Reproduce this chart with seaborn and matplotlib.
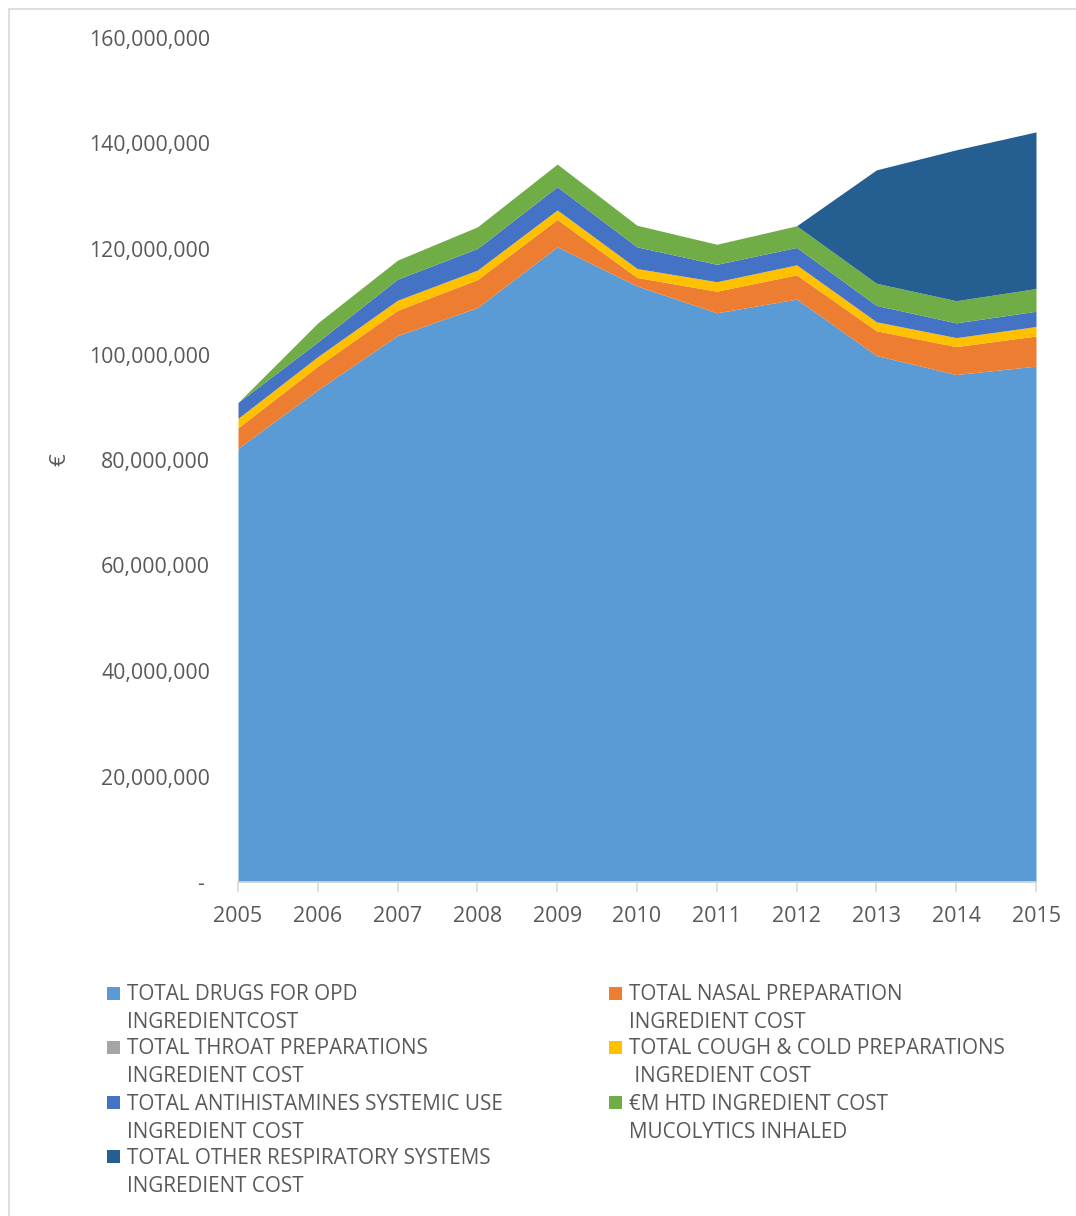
import matplotlib
matplotlib.use("Agg")
import matplotlib.pyplot as plt
import matplotlib.ticker as mticker
from matplotlib.patches import Rectangle
from matplotlib.lines import Line2D
import seaborn as sns

# Ingredient cost by year (euro, millions)
years = [2005, 2006, 2007, 2008, 2009, 2010, 2011, 2012, 2013, 2014, 2015]
opd = [82.2, 93.3, 103.6, 108.9, 120.4, 113.0, 107.9, 110.5, 99.8, 96.2, 97.8]
nasal = [3.9, 4.5, 4.8, 5.3, 5.2, 1.6, 4.1, 4.6, 4.7, 5.3, 5.7]
throat = [0.0, 0.0, 0.0, 0.0, 0.0, 0.0, 0.0, 0.0, 0.0, 0.0, 0.0]
cough = [1.8, 1.8, 1.9, 1.8, 1.8, 1.7, 1.8, 1.9, 1.7, 1.7, 1.8]
antihist = [3.0, 2.8, 4.0, 4.1, 4.4, 4.1, 3.3, 3.3, 3.1, 2.8, 2.9]
mucolytics = [0.0, 3.6, 3.6, 4.1, 4.3, 4.1, 3.8, 4.1, 4.2, 4.2, 4.3]
other_resp = [0.0, 0.0, 0.0, 0.0, 0.0, 0.0, 0.0, 0.0, 21.5, 28.6, 29.7]

series_labels = [
    "TOTAL DRUGS FOR OPD\nINGREDIENTCOST",
    "TOTAL NASAL PREPARATION\nINGREDIENT COST",
    "TOTAL THROAT PREPARATIONS\nINGREDIENT COST",
    "TOTAL COUGH & COLD PREPARATIONS\n INGREDIENT COST",
    "TOTAL ANTIHISTAMINES SYSTEMIC USE\nINGREDIENT COST",
    "€M HTD INGREDIENT COST\nMUCOLYTICS INHALED",
    "TOTAL OTHER RESPIRATORY SYSTEMS\nINGREDIENT COST",
]
series_colors = ["#5B9BD5", "#ED7D31", "#A5A5A5", "#FFC000", "#4472C4", "#70AD47", "#255E91"]
y_ticks = [0, 20, 40, 60, 80, 100, 120, 140, 160]

sns.set_style("white")
plt.rcParams["font.family"] = ["Open Sans", "DejaVu Sans"]

text_color = "#595959"
W, H = 1076, 1216
fig = plt.figure(figsize=(W / 100, H / 100), dpi=100)

def fx(px):
    return px / W

def fy(py):
    return 1 - py / H

ax = fig.add_axes([fx(238), fy(882), fx(1036) - fx(238), fy(38) - fy(882)])

stack = [opd, nasal, throat, cough, antihist, mucolytics, other_resp]
stack_euro = [[v * 1e6 for v in s] for s in stack]
ax.stackplot(years, *stack_euro, colors=series_colors, linewidth=0)

ax.set_xlim(years[0], years[-1])
ax.set_ylim(0, y_ticks[-1] * 1e6)
ax.set_xticks(years)
ax.set_xticklabels([str(y) for y in years])
ax.set_yticks([t * 1e6 for t in y_ticks])
ax.yaxis.set_major_formatter(
    mticker.FuncFormatter(lambda v, p: "- " if v == 0 else f"{int(v):,}")
)
sns.despine(ax=ax, left=True, top=True, right=True, bottom=False)
ax.spines["bottom"].set_color("#D9D9D9")
ax.spines["bottom"].set_linewidth(1.2)
ax.spines["bottom"].set_zorder(5)
ax.tick_params(axis="x", bottom=True, length=7, width=1.2, color="#D9D9D9",
               labelsize=15.5, labelcolor=text_color, pad=10, direction="out")
ax.tick_params(axis="y", left=False, labelsize=15.3, labelcolor=text_color, pad=16.5)
ax.set_facecolor("white")
ax.grid(False)

fig.text(fx(60), fy(460), "€", rotation=90, ha="center", va="center",
         fontsize=16, color=text_color)

# Legend laid out in two columns, row by row
col_x = [107, 609]
row_y = [993, 1047, 1102, 1156]
for i, (lab, col) in enumerate(zip(series_labels, series_colors)):
    r, c = divmod(i, 2)
    x0 = col_x[c]
    y0 = row_y[r]
    fig.patches.append(Rectangle((fx(x0), fy(y0 + 7)), fx(13), 13 / H,
                                 transform=fig.transFigure, facecolor=col,
                                 edgecolor="none"))
    first, second = lab.split("\n")
    fig.text(fx(x0 + 20), fy(y0 + 2), first, ha="left", va="center",
             fontsize=14.9, color=text_color)
    fig.text(fx(x0 + 20), fy(y0 + 30), second, ha="left", va="center",
             fontsize=14.9, color=text_color)

# Outer frame lines (top and left)
fig.lines.append(Line2D([fx(9), 1], [fy(9), fy(9)], transform=fig.transFigure,
                        color="#D9D9D9", linewidth=1.2))
fig.lines.append(Line2D([fx(9), fx(9)], [0, fy(9)], transform=fig.transFigure,
                        color="#D9D9D9", linewidth=1.2))

fig.savefig("out.png", dpi=100, facecolor="white")
